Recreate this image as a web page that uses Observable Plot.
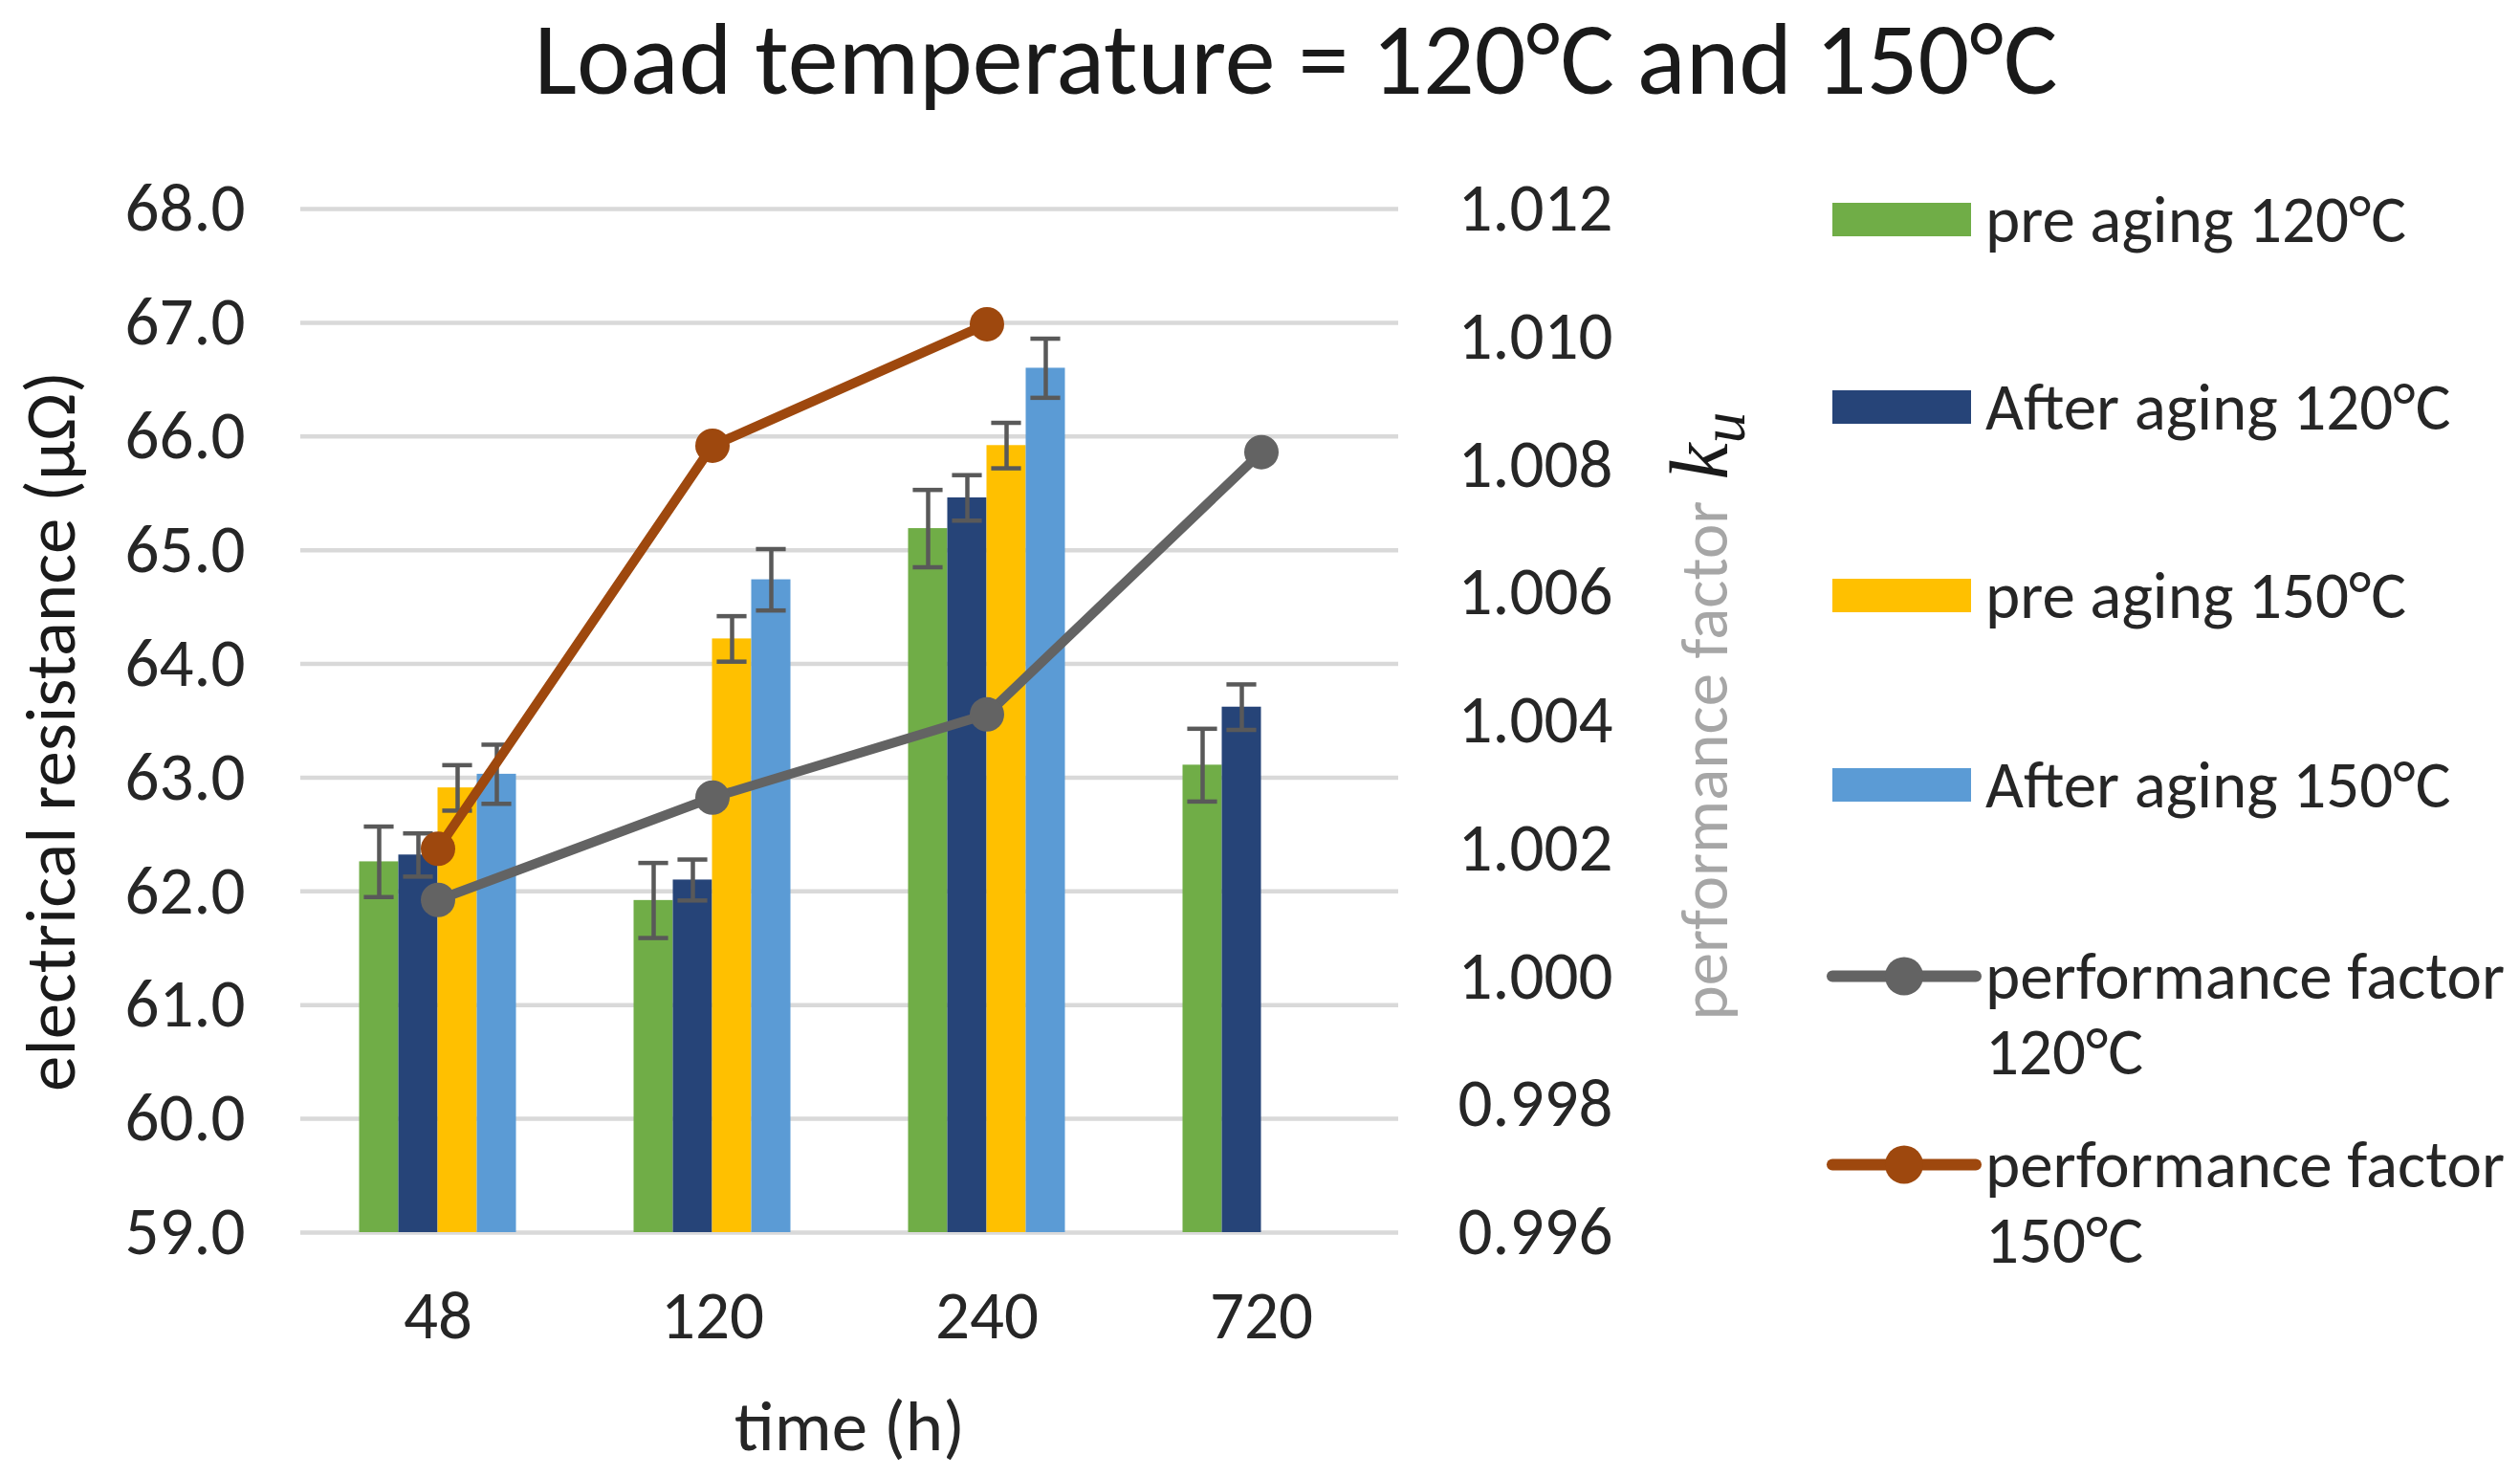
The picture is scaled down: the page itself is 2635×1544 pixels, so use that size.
<!DOCTYPE html>
<html>
<head>
<meta charset="utf-8">
<script src="https://cdn.jsdelivr.net/npm/d3@7"></script>
<script src="https://cdn.jsdelivr.net/npm/@observablehq/plot@0.6"></script>
<style>
  html, body { margin: 0; padding: 0; background: #ffffff; }
  body { font-family: Carlito, Calibri, "Open Sans", sans-serif; color: #262626; }
  #wrap { position: relative; width: 2635px; height: 1544px; }
  #title { margin: 0; padding: 4px 0 0 75px; height: 130px; box-sizing: border-box; text-align: center;
           font-size: 106px; font-weight: normal; line-height: 116px; color: #1a1a1a; }
  #chart { position: absolute; left: 0; top: 140px; }
  .leg { position: absolute; left: 1906px; display: flex; align-items: flex-start; }
  .leg .sw { width: 170px; height: 79px; flex: none; }
  .leg .tx { font-size: 69px; line-height: 79px; color: #262626; white-space: pre; }
</style>
</head>
<body>
<div id="wrap">
  <h1 id="title">Load temperature = 120°C and 150°C</h1>
  <div id="chart"></div>
  <div id="legend"></div>
</div>
<script>
// ---------- data ----------
const times = ["48", "120", "240", "720"];

const barSeries = ["pre aging 120°C", "After aging 120°C", "pre aging 150°C", "After aging 150°C"];
const barColors = ["#70AD47", "#264478", "#FFC000", "#5B9BD5"];

const pre120   = [62.26, 61.92, 65.19, 63.11];
const after120 = [62.32, 62.10, 65.46, 63.62];
const pre150   = [62.91, 64.22, 65.92, null];
const after150 = [63.03, 64.74, 66.60, null];

const errPre120   = [0.31, 0.33, 0.34, 0.32];
const errAfter120 = [0.19, 0.18, 0.20, 0.20];
const errPre150   = [0.20, 0.20, 0.20, null];
const errAfter150 = [0.26, 0.27, 0.26, null];

const lineSeries = ["performance factor\n120°C", "performance factor\n150°C"];
const lineColors = ["#636363", "#9E480E"];
const pf120 = [1.0012, 1.0028, 1.0041, 1.0082];
const pf150 = [1.0020, 1.0083, 1.0102, null];

const leftTicks  = [59, 60, 61, 62, 63, 64, 65, 66, 67, 68];
const rightTicks = [0.996, 0.998, 1.000, 1.002, 1.004, 1.006, 1.008, 1.010, 1.012];

const leftLabel = "electrical resistance (μΩ)";
const rightLabel = "performance factor";
const xLabel = "time (h)";

// ---------- derived ----------
const L0 = leftTicks[0], L1 = leftTicks[leftTicks.length - 1];
const R0 = rightTicks[0], R1 = rightTicks[rightTicks.length - 1];
const toLeft = k => L0 + (k - R0) / (R1 - R0) * (L1 - L0);
const toRight = v => R0 + (v - L0) / (L1 - L0) * (R1 - R0);

const barValues = [pre120, after120, pre150, after150];
const barErrors = [errPre120, errAfter120, errPre150, errAfter150];
const slot = 1 / 7;             // bar width as fraction of category band
const capHalf = slot * 0.38;
const bars = [];
barSeries.forEach((s, j) => {
  times.forEach((t, i) => {
    const v = barValues[j][i];
    if (v == null) return;
    const x1 = i - 2 * slot + j * slot;
    bars.push({series: s, x1, x2: x1 + slot, xc: x1 + slot / 2, v, e: barErrors[j][i]});
  });
});

const lineValues = [pf120, pf150];
const lines = [];
lineSeries.forEach((s, j) => {
  times.forEach((t, i) => {
    const k = lineValues[j][i];
    if (k == null) return;
    lines.push({series: s, i, k});
  });
});

const errStroke = "#595959";
const fontStack = 'Carlito, Calibri, "Open Sans", sans-serif';

const chart = Plot.plot({
  width: 1900,
  height: 1400,
  marginTop: 78,
  marginBottom: 252,
  marginLeft: 314,
  marginRight: 438,
  style: {fontFamily: fontStack, fontSize: "71px", color: "#262626", background: "transparent", overflow: "visible"},
  x: {type: "linear", domain: [-0.5, times.length - 0.5]},
  y: {domain: [L0, L1]},
  color: {domain: [...barSeries, ...lineSeries], range: [...barColors, ...lineColors]},
  marks: [
    Plot.ruleY(leftTicks, {stroke: "#D9D9D9", strokeWidth: 4.5}),
    Plot.rect(bars, {x1: "x1", x2: "x2", y1: () => L0, y2: "v", fill: "series"}),
    Plot.ruleX(bars, {x: "xc", y1: d => d.v - d.e, y2: d => d.v + d.e, stroke: errStroke, strokeWidth: 4.5}),
    Plot.ruleY(bars, {x1: d => d.xc - capHalf, x2: d => d.xc + capHalf, y: d => d.v + d.e, stroke: errStroke, strokeWidth: 4.5}),
    Plot.ruleY(bars, {x1: d => d.xc - capHalf, x2: d => d.xc + capHalf, y: d => d.v - d.e, stroke: errStroke, strokeWidth: 4.5}),
    Plot.line(lines, {x: "i", y: d => toLeft(d.k), z: "series", stroke: "series", strokeWidth: 10, strokeLinejoin: "round", strokeLinecap: "round"}),
    Plot.dot(lines, {x: "i", y: d => toLeft(d.k), fill: "series", r: 18}),
    Plot.axisX({ticks: times.map((t, i) => i), tickFormat: i => times[i], tickSize: 0, tickPadding: 60,
      label: null}),
    Plot.text([xLabel], {frameAnchor: "bottom", lineAnchor: "bottom", dy: 227, fontSize: 75, fill: "#262626"}),
    Plot.axisY({ticks: leftTicks, tickFormat: d => d.toFixed(1), tickSize: 0, tickPadding: 58, label: null}),
    Plot.text([leftLabel], {frameAnchor: "left", lineAnchor: "top", textAnchor: "middle", rotate: -90, dx: -290, dy: 11, fontSize: 75, fill: "#1a1a1a"}),
    Plot.axisY({anchor: "right", ticks: rightTicks.map(toLeft), tickFormat: d => toRight(d).toFixed(3), tickSize: 0, tickPadding: 62, label: null}),
    Plot.text([rightLabel], {frameAnchor: "right", lineAnchor: "bottom", textAnchor: "middle", rotate: -90, dx: 343, dy: -5, fontSize: 69, fill: "#A6A6A6", className: "rlabel"})
  ]
});
document.getElementById("chart").appendChild(chart);

// right axis label: grey text plus italic k with subscript u
chart.querySelectorAll("g.rlabel text").forEach(el => {
  const sel = d3.select(el);
  sel.append("tspan").attr("dx", 22).attr("font-family", '"Liberation Serif", "DejaVu Serif", serif')
    .attr("font-style", "italic").attr("fill", "#1a1a1a").attr("font-size", "86px").text("k");
  sel.append("tspan").attr("font-family", '"Liberation Serif", "DejaVu Serif", serif')
    .attr("font-style", "italic").attr("fill", "#1a1a1a").attr("font-size", "66px").attr("dy", "0.28em").text("u");
});

// ---------- legend (HTML) ----------
const legend = document.getElementById("legend");
const rowTop = [190, 386, 583, 781, 981, 1178];
const items = [
  ...barSeries.map((s, j) => ({label: s, kind: "bar", color: barColors[j]})),
  ...lineSeries.map((s, j) => ({label: s, kind: "line", color: lineColors[j]}))
];
items.forEach((it, idx) => {
  const row = document.createElement("div");
  row.className = "leg";
  row.style.top = rowTop[idx] + "px";
  const sw = d3.create("svg").attr("class", "sw").attr("width", 170).attr("height", 79);
  if (it.kind === "bar") {
    sw.append("rect").attr("x", 10).attr("y", 22).attr("width", 145).attr("height", 35).attr("fill", it.color);
  } else {
    sw.append("line").attr("x1", 10).attr("x2", 160).attr("y1", 39.5).attr("y2", 39.5)
      .attr("stroke", it.color).attr("stroke-width", 12).attr("stroke-linecap", "round");
    sw.append("circle").attr("cx", 85).attr("cy", 39.5).attr("r", 20).attr("fill", it.color);
  }
  row.appendChild(sw.node());
  const tx = document.createElement("div");
  tx.className = "tx";
  tx.textContent = it.label;
  row.appendChild(tx);
  legend.appendChild(row);
});
</script>
</body>
</html>
